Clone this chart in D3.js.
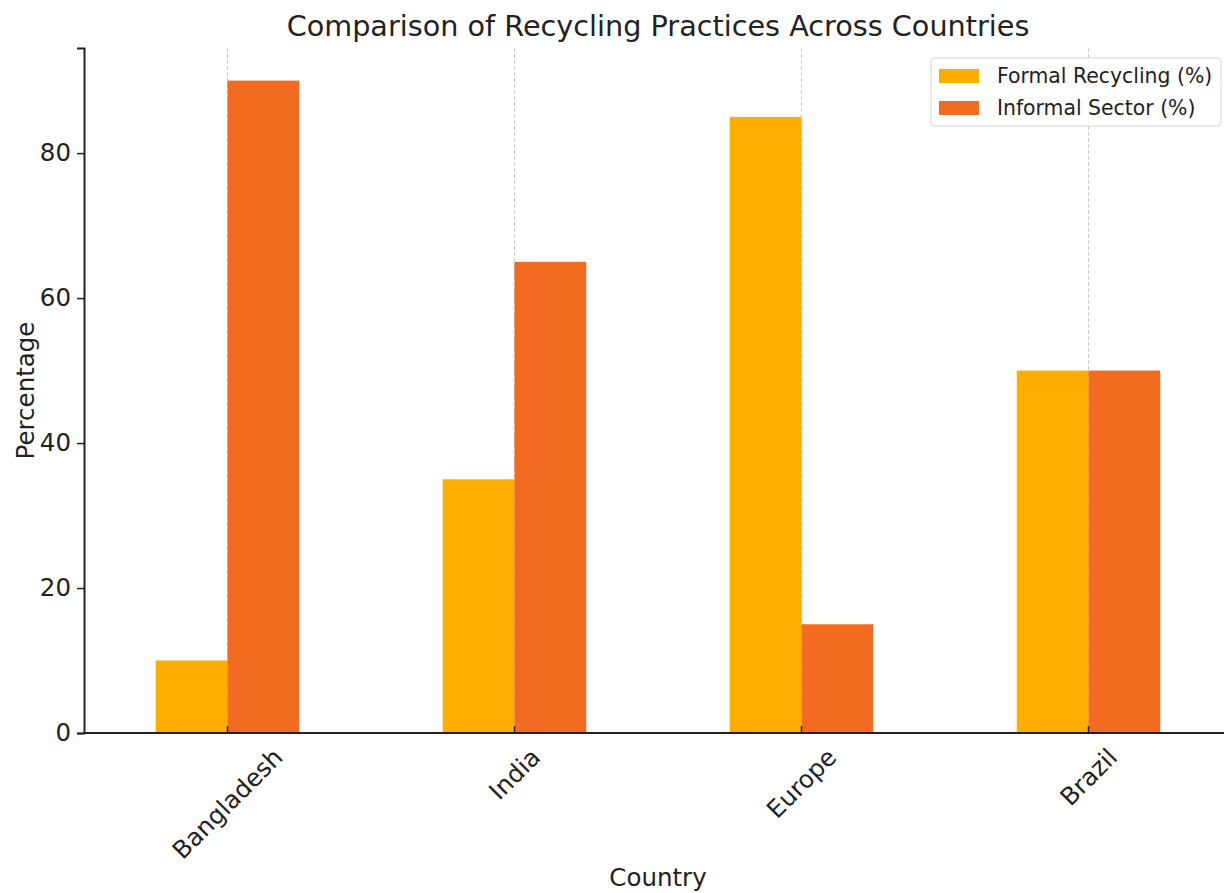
<!DOCTYPE html>
<html>
<head>
<meta charset="utf-8">
<script src="https://cdn.jsdelivr.net/npm/d3@7"></script>
<style>
  body { margin: 0; background: #fff; }
  text { font-family: "DejaVu Sans", sans-serif; fill: #222; }
</style>
</head>
<body>
<div id="chart"></div>
<script>
// Data
var countries = ['Bangladesh', 'India', 'Europe', 'Brazil']
var formalRecycling = [10, 35, 85, 50]
var informalSector = [90, 65, 15, 50]
var seriesNames = ['Formal Recycling (%)', 'Informal Sector (%)']
var seriesColors = ['#FFAE00', '#F26B21']
var yTicks = [0, 20, 40, 60, 80]

// Dimensions
var width = 1224
var height = 893
var margin = { top: 48, right: -8, bottom: 160, left: 84 }
var chartWidth = width - margin.left - margin.right
var chartHeight = height - margin.top - margin.bottom

var svg = d3.select('#chart').append('svg')
  .attr('width', width)
  .attr('height', height)

var g = svg.append('g')
  .attr('transform', 'translate(' + margin.left + ',' + margin.top + ')')

// Scales (category index space, like matplotlib)
var x = d3.scaleLinear().domain([-0.5, 3.5]).range([0, chartWidth])
var y = d3.scaleLinear().domain([0, 94.5]).range([chartHeight, 0])
var barW = 0.25

// Grid lines (vertical, dashed)
g.selectAll('.grid')
  .data(countries)
  .enter().append('line')
  .attr('class', 'grid')
  .attr('x1', function (d, i) { return x(i) })
  .attr('x2', function (d, i) { return x(i) })
  .attr('y1', 0)
  .attr('y2', chartHeight)
  .attr('stroke', '#cccccc')
  .attr('stroke-width', 1)
  .attr('stroke-dasharray', '4,2')

// Bars
var series = [formalRecycling, informalSector]
series.forEach(function (vals, s) {
  g.selectAll('.bar-' + s)
    .data(vals)
    .enter().append('rect')
    .attr('class', 'bar-' + s)
    .attr('x', function (d, i) { return x(i - barW + s * barW) })
    .attr('width', x(barW) - x(0))
    .attr('y', function (d) { return y(d) })
    .attr('height', function (d) { return chartHeight - y(d) })
    .attr('fill', seriesColors[s])
})

// Y axis
var yAxis = g.append('g')
  .call(d3.axisLeft(y).tickValues(yTicks).tickSize(7).tickPadding(6))
yAxis.select('.domain').attr('stroke', '#222').attr('stroke-width', 2)
yAxis.selectAll('.tick line').attr('stroke', '#222').attr('stroke-width', 1.5)
yAxis.selectAll('.tick text')
  .style('font-size', '24.5px')
  .attr('fill', '#222')

// X axis
var xAxisG = g.append('g')
  .attr('transform', 'translate(0,' + chartHeight + ')')
xAxisG.append('line')
  .attr('x1', 0).attr('x2', chartWidth)
  .attr('stroke', '#222').attr('stroke-width', 2)
xAxisG.selectAll('.xtick')
  .data(countries)
  .enter().append('line')
  .attr('x1', function (d, i) { return x(i) })
  .attr('x2', function (d, i) { return x(i) })
  .attr('y1', 0).attr('y2', -7)
  .attr('stroke', '#222').attr('stroke-width', 1.5)

var labels = xAxisG.selectAll('.xlabel')
  .data(countries)
  .enter().append('text')
  .attr('class', 'xlabel')
  .style('font-size', '24.5px')
  .attr('text-anchor', 'middle')
  .attr('dy', '0.35em')
  .text(function (d) { return d })

labels.each(function (d, i) {
  var len = this.getComputedTextLength()
  var h = 22
  var yc = 12 + (len + h) * Math.SQRT1_2 / 2
  d3.select(this)
    .attr('transform', 'translate(' + x(i) + ',' + yc + ') rotate(-45)')
})

// Axis titles
svg.append('text')
  .attr('x', margin.left + x(1.5))
  .attr('y', 886)
  .attr('text-anchor', 'middle')
  .style('font-size', '24.5px')
  .text('Country')

svg.append('text')
  .attr('transform', 'translate(34,' + (margin.top + chartHeight / 2) + ') rotate(-90)')
  .attr('text-anchor', 'middle')
  .style('font-size', '24.5px')
  .text('Percentage')

// Title
svg.append('text')
  .attr('x', margin.left + x(1.5))
  .attr('y', 36)
  .attr('text-anchor', 'middle')
  .style('font-size', '28.7px')
  .attr('fill', '#333')
  .text('Comparison of Recycling Practices Across Countries')

// Legend
var legend = svg.append('g').attr('transform', 'translate(931,58)')
legend.append('rect')
  .attr('width', 290).attr('height', 68)
  .attr('rx', 4)
  .attr('fill', '#fff').attr('fill-opacity', 0.8)
  .attr('stroke', '#d6d6d6')

var items = legend.selectAll('.item')
  .data(seriesNames)
  .enter().append('g')
  .attr('transform', function (d, i) { return 'translate(0,' + (18 + i * 32) + ')' })
items.append('rect')
  .attr('x', 8).attr('y', -7)
  .attr('width', 40).attr('height', 14)
  .attr('fill', function (d, i) { return seriesColors[i] })
items.append('text')
  .attr('x', 66).attr('dy', '0.35em')
  .style('font-size', '20.4px')
  .attr('fill', '#333')
  .text(function (d) { return d })
</script>
</body>
</html>
